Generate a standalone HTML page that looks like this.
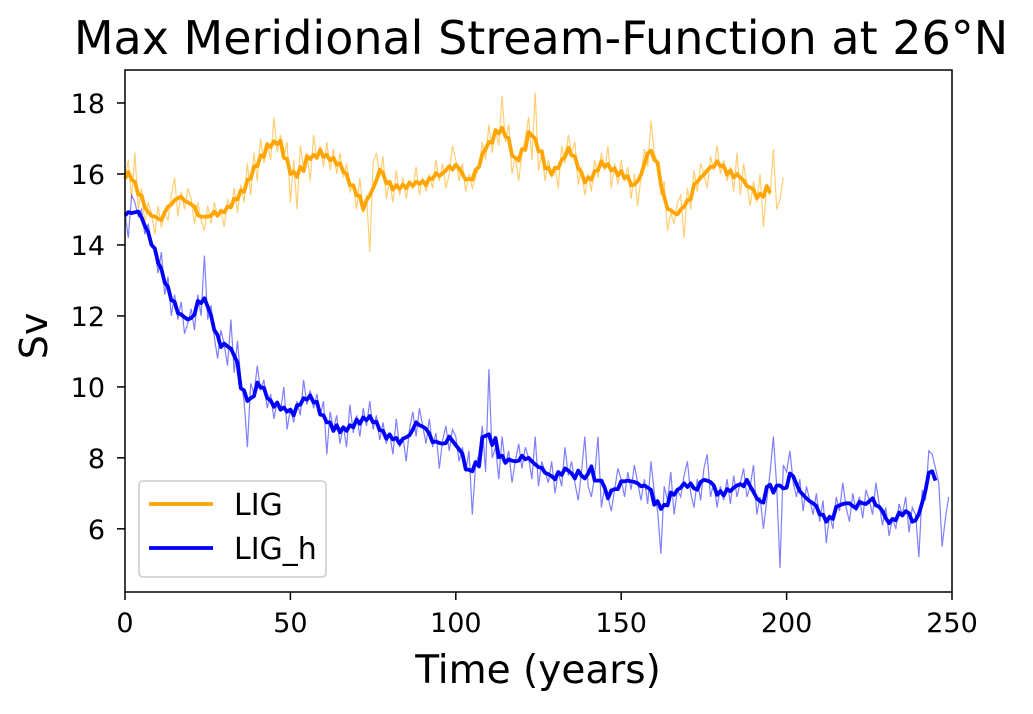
<!DOCTYPE html>
<html><head><meta charset="utf-8"><style>
body{margin:0;background:#fff}
svg{font-family:"DejaVu Sans","Liberation Sans",sans-serif}
</style></head><body>
<svg id="c" width="1033" height="709">
<text x="541" y="54" font-size="46" text-anchor="middle">Max Meridional Stream-Function at 26°N</text>
<text x="0" y="0" font-size="38" text-anchor="middle" transform="translate(47,336) rotate(-90)">Sv</text>
<text x="538" y="683" font-size="39" text-anchor="middle">Time (years)</text>
<g id="plot"></g>
</svg>
<script>
const lig=[15.9,16.4,15.3,16.6,15.0,15.6,14.6,15.2,14.9,14.3,
15.1,14.5,14.9,14.7,15.4,15.9,14.8,15.5,15.0,15.6,
15.3,14.6,15.2,14.7,14.4,15.1,14.6,15.2,14.8,15.0,
14.5,15.3,15.0,15.6,14.9,15.7,15.2,16.3,15.4,16.6,
15.8,17.0,16.3,16.9,16.4,17.6,16.6,17.1,16.5,16.9,
15.2,16.4,15.0,16.8,16.2,16.6,15.8,17.1,16.4,16.8,
16.2,16.9,16.1,16.7,16.0,16.6,15.9,16.3,15.5,15.7,
15.0,15.9,14.9,15.4,13.8,16.3,16.6,15.9,16.5,15.3,
15.8,15.2,16.1,15.4,15.9,15.3,15.8,15.6,16.2,15.4,
15.9,15.5,16.0,15.6,16.4,15.8,16.3,15.6,16.0,16.8,
16.4,15.8,16.3,15.5,16.0,15.6,15.9,16.2,16.9,16.4,
17.4,16.6,17.2,16.8,18.2,16.9,17.4,16.0,16.5,15.8,
16.6,17.0,17.6,16.4,18.3,16.1,16.6,15.8,16.4,15.9,
16.2,15.6,16.8,16.3,17.1,16.6,16.9,15.7,16.2,15.4,
16.0,15.5,16.4,15.9,16.6,16.1,16.8,15.6,16.3,15.7,
16.4,15.8,16.2,15.3,16.0,15.1,15.9,16.7,16.2,17.5,
16.6,16.3,15.4,15.8,14.4,14.9,14.6,15.2,15.4,14.2,
15.6,15.0,16.1,15.5,16.3,16.0,15.6,16.5,16.1,16.8,
16.0,16.4,15.8,16.2,15.5,16.6,15.4,16.3,15.7,15.1,
15.8,15.2,16.0,14.5,15.7,15.4,16.7,15.0,15.3,15.9];
const ligH=[14.9,14.2,15.4,15.2,14.8,15.0,14.3,14.6,14.0,13.9,
13.2,13.8,12.6,13.1,12.0,12.6,11.9,12.4,11.5,11.8,
12.2,11.6,12.6,12.0,13.7,11.9,12.3,11.4,10.8,11.6,
11.2,10.6,11.9,10.4,11.3,10.2,9.6,8.3,10.1,9.8,
10.6,9.9,10.2,9.4,9.8,9.1,9.6,9.3,10.0,8.8,
9.4,9.0,9.6,9.2,10.2,9.5,9.9,9.4,9.8,9.2,
9.6,8.1,9.3,8.8,9.2,8.4,8.9,8.3,9.5,8.7,
9.2,8.6,9.4,8.9,9.6,8.8,9.2,8.5,9.0,8.4,
8.7,8.1,9.1,8.3,8.6,7.9,8.8,9.3,8.6,9.4,
8.9,8.4,9.1,8.3,8.7,7.7,8.5,8.9,8.2,8.8,
8.6,7.9,8.3,7.6,8.2,6.4,7.8,8.1,8.9,7.6,
10.5,8.0,8.3,7.4,8.6,7.8,8.2,7.3,7.9,8.4,
7.7,8.3,8.0,7.4,8.6,7.2,7.9,7.6,7.3,7.9,
7.0,7.6,7.2,8.3,7.5,7.9,7.3,6.8,7.6,8.6,
7.2,6.9,7.5,8.6,6.6,7.2,6.9,6.5,7.1,7.7,
7.4,6.9,7.6,7.1,7.8,7.3,6.8,7.4,6.7,7.9,
7.0,6.5,5.3,7.2,6.8,7.6,6.4,7.1,6.9,7.5,
7.9,7.0,6.6,7.4,6.8,7.7,8.1,6.9,7.3,6.6,
7.2,6.8,7.4,6.7,7.5,6.9,7.3,7.7,6.9,7.2,
7.8,6.4,6.9,6.0,6.8,7.6,8.6,7.2,4.9,7.8,
7.6,8.2,7.3,6.9,7.4,6.5,7.2,6.8,6.4,7.0,
6.2,6.8,5.6,6.4,6.0,6.9,6.5,7.3,6.6,6.2,
7.0,6.5,6.9,6.3,7.1,6.8,6.4,7.3,6.7,6.1,
6.6,5.8,6.3,6.0,6.7,6.4,6.9,5.9,6.6,6.4,
5.2,7.1,6.8,8.2,8.1,7.7,7.3,5.5,6.3,6.9];
const xTicks=[0,50,100,150,200,250];
const yTicks=[6,8,10,12,14,16,18];
const seriesNames=["LIG","LIG_h"];

const L=125,R=952,T=70,B=592;
const X0=0,X1=250,Y0=4.22,Y1=18.93;
const sx=v=>L+(v-X0)/(X1-X0)*(R-L);
const sy=v=>B-(v-Y0)/(Y1-Y0)*(B-T);
const NS="http://www.w3.org/2000/svg";
const g=document.getElementById('plot');
function mk(t,a,p){const e=document.createElementNS(NS,t);for(const k in a)e.setAttribute(k,a[k]);(p||g).appendChild(e);return e;}
function smooth(a){const o=[];for(let i=0;i<a.length;i++){let s=0,n=0;for(let j=i-2;j<=i+2;j++){if(j>=0&&j<a.length){s+=a[j];n++;}}o.push(s/n);}return o;}
function pts(a,n){let s='';for(let i=0;i<n;i++)s+=sx(i).toFixed(1)+','+sy(a[i]).toFixed(1)+' ';return s;}

let e;
e=mk('polyline',{points:pts(lig,lig.length),fill:'none',stroke:'orange','stroke-width':1.2,'stroke-opacity':0.55});


e=mk('polyline',{points:pts(ligH,ligH.length),fill:'none',stroke:'blue','stroke-width':1.2,'stroke-opacity':0.5});


const sl=smooth(lig),sh=smooth(ligH);
e=mk('polyline',{points:pts(sl,lig.length-4),fill:'none',stroke:'orange','stroke-width':3.8,'stroke-linejoin':'round'});


e=mk('polyline',{points:pts(sh,ligH.length-4),fill:'none',stroke:'blue','stroke-width':3.8,'stroke-linejoin':'round'});



e=mk('rect',{x:L,y:T,width:R-L,height:B-T,fill:'none',stroke:'#000','stroke-width':1.5});


xTicks.forEach(v=>{
 e=mk('line',{x1:sx(v),x2:sx(v),y1:B,y2:B+8,stroke:'#000','stroke-width':1.5});
 
 
 e=mk('text',{x:sx(v),y:B+40,'font-size':27,'text-anchor':'middle'});e.textContent=v;
 
 
});
yTicks.forEach(v=>{
 e=mk('line',{x1:L-8,x2:L,y1:sy(v),y2:sy(v),stroke:'#000','stroke-width':1.5});
 
 
 e=mk('text',{x:L-20,y:sy(v)+10,'font-size':27,'text-anchor':'end'});e.textContent=v;
 
 
});
const lg=mk('g',{});


mk('rect',{x:139,y:481,width:187,height:96,rx:4,fill:'#fff','fill-opacity':0.8,stroke:'#ccc','stroke-width':1.5},lg);
const cols=['orange','blue'];
seriesNames.forEach((n,i)=>{
 const y=504+i*44;
 const it=mk('g',{},lg);
 
 
 mk('line',{x1:149,x2:213,y1:y,y2:y,stroke:cols[i],'stroke-width':3.8},it);
 const t=mk('text',{x:234,y:y+11,'font-size':30},it);t.textContent=n;
});
</script>
</body></html>
